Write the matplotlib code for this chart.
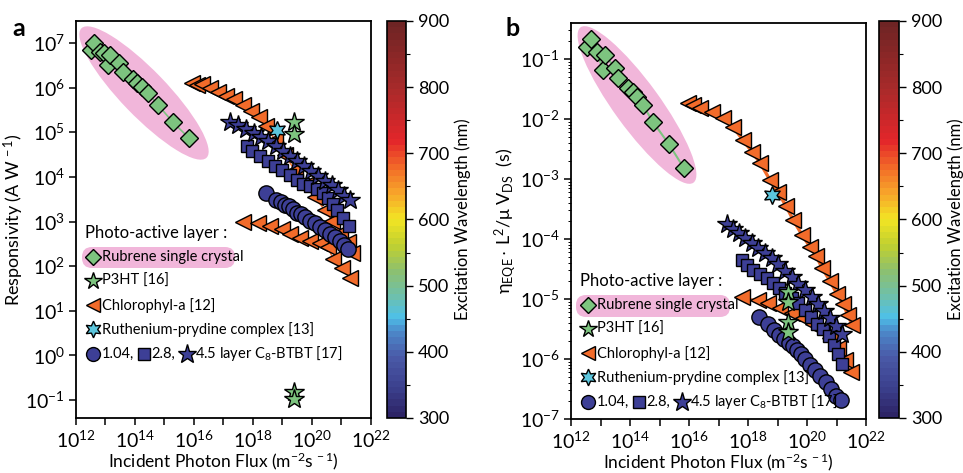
import numpy as np
import matplotlib
matplotlib.use('Agg')
import matplotlib.pyplot as plt
from matplotlib.colors import LinearSegmentedColormap, Normalize
from matplotlib.cm import ScalarMappable
from matplotlib.patches import Ellipse, FancyBboxPatch
from matplotlib.ticker import FixedLocator, FuncFormatter, NullLocator, LogLocator, MultipleLocator

# ---- data (log10 of photon flux / responsivity / eta*L^2/mu V) ----
# panel a
a_rub_x = [12.61, 12.51, 12.81, 12.95, 13.15, 13.08, 13.46, 13.59, 13.93, 14.07, 14.24, 14.44, 14.78, 15.29, 15.83]
a_rub_y = [7.00, 6.84, 6.80, 6.78, 6.73, 6.51, 6.55, 6.35, 6.19, 6.10, 6.01, 5.88, 5.61, 5.22, 4.87]
a_chl1_x = [15.93, 16.10, 16.27, 16.54, 16.81, 17.08, 17.36, 17.66, 17.93, 18.20, 18.44, 18.75, 19.08,
            19.42, 19.76, 20.10, 20.44, 20.68, 20.95, 21.22, 21.36]
a_chl1_y = [6.10, 6.06, 6.08, 5.99, 5.90, 5.81, 5.74, 5.61, 5.47, 5.34, 5.13, 4.82, 4.48,
            4.15, 3.81, 3.54, 3.25, 3.02, 2.75, 2.53, 2.30]
a_chl2_x = [17.66, 18.17, 18.58, 18.98, 19.25, 19.59, 19.93, 20.27, 20.54, 20.71, 21.02, 21.29]
a_chl2_y = [2.98, 2.96, 2.89, 2.84, 2.73, 2.64, 2.57, 2.51, 2.42, 2.17, 1.97, 1.74]
a_circ_x = [18.44, 18.78, 18.95, 19.08, 19.22, 19.36, 19.49, 19.63, 19.76, 19.93, 20.10, 20.27, 20.44,
            20.61, 20.78, 20.95, 21.08, 21.22]
a_circ_y = [3.63, 3.49, 3.43, 3.38, 3.34, 3.27, 3.20, 3.16, 3.09, 3.02, 2.96, 2.87, 2.80,
            2.73, 2.66, 2.57, 2.48, 2.39]
a_sq_x = [17.80, 17.97, 18.24, 18.51, 18.75, 18.98, 19.25, 19.49, 19.69, 19.93, 20.17, 20.37, 20.54,
          20.71, 20.85, 21.05, 21.25]
a_sq_y = [4.69, 4.57, 4.46, 4.35, 4.24, 4.15, 4.04, 3.92, 3.85, 3.79, 3.72, 3.63, 3.52,
          3.40, 3.25, 3.07, 2.89]
a_star_x = [17.22, 17.49, 17.76, 18.03, 18.27, 18.51, 18.78, 19.02, 19.25, 19.49, 19.73, 19.97, 20.20,
            20.44, 20.68, 20.88, 21.08, 21.29]
a_star_y = [5.22, 5.16, 5.07, 4.98, 4.89, 4.80, 4.69, 4.57, 4.46, 4.35, 4.24, 4.12, 4.01,
            3.90, 3.81, 3.70, 3.58, 3.49]
a_ru_x = [18.81]
a_ru_y = [5.04]
a_p3_x = [19.39, 19.39, 19.39, 19.39]
a_p3_y = [5.22, 4.96, -0.82, -0.98]

# panel b
b_rub_x = [12.68, 12.54, 12.88, 13.15, 13.08, 13.49, 13.59, 13.93, 14.10, 14.24, 14.44, 14.78, 15.32, 15.83]
b_rub_y = [-0.67, -0.80, -0.88, -0.93, -1.18, -1.15, -1.32, -1.48, -1.55, -1.63, -1.77, -2.05, -2.42, -2.82]
b_chl1_x = [15.97, 16.14, 16.37, 16.78, 17.15, 17.49, 17.83, 18.14, 18.41, 18.75, 19.02, 19.29, 19.53,
            19.83, 20.10, 20.31, 20.51, 20.78, 21.02, 21.22, 21.39, 21.53]
b_chl1_y = [-1.73, -1.77, -1.82, -1.88, -1.98, -2.13, -2.35, -2.55, -2.73, -3.02, -3.22, -3.45, -3.68,
            -3.93, -4.13, -4.28, -4.48, -4.70, -4.92, -5.08, -5.27, -5.43]
b_chl2_x = [17.80, 18.34, 18.68, 19.08, 19.49, 19.86, 20.20, 20.51, 20.78, 21.05, 21.29, 21.49]
b_chl2_y = [-4.97, -5.02, -5.07, -5.15, -5.23, -5.32, -5.42, -5.52, -5.65, -5.82, -6.02, -6.22]
b_circ_x = [18.37, 18.68, 18.88, 19.05, 19.22, 19.39, 19.53, 19.66, 19.80, 19.93, 20.10, 20.27, 20.44,
            20.64, 20.81, 20.98, 21.15]
b_circ_y = [-5.30, -5.42, -5.52, -5.60, -5.67, -5.73, -5.78, -5.85, -5.92, -6.00, -6.10, -6.18, -6.28,
            -6.38, -6.50, -6.62, -6.68]
b_sq_x = [17.80, 17.97, 18.17, 18.41, 18.64, 18.85, 19.05, 19.25, 19.49, 19.69, 19.93, 20.14, 20.34,
          20.54, 20.75, 20.92, 21.05, 21.19]
b_sq_y = [-4.35, -4.43, -4.52, -4.58, -4.65, -4.73, -4.82, -4.90, -4.98, -5.07, -5.18, -5.30, -5.42,
          -5.50, -5.62, -5.77, -5.92, -6.08]
b_star_x = [17.29, 17.49, 17.69, 17.90, 18.14, 18.34, 18.58, 18.81, 19.02, 19.25, 19.49, 19.69, 19.93,
            20.17, 20.37, 20.58, 20.78, 20.98, 21.19]
b_star_y = [-3.75, -3.83, -3.90, -3.98, -4.07, -4.15, -4.23, -4.32, -4.42, -4.53, -4.63, -4.75, -4.85,
            -4.97, -5.08, -5.20, -5.32, -5.45, -5.58]
b_ru_x = [18.81]
b_ru_y = [-3.27]
b_p3_x = [19.36, 19.36, 19.36, 19.36]
b_p3_y = [-4.88, -5.05, -5.38, -5.55]

# colour bar
wl_stops = [300, 340, 390, 430, 450, 480, 520, 560, 600, 640, 680, 720, 800, 900]
wl_colors = ['#2d2466', '#3b3f8c', '#4a5aa8', '#4c8ccc', '#4ec0e8', '#6cc0b0', '#8cc070', '#c0d030',
             '#f2e424', '#f7a52a', '#f26a28', '#e3262a', '#a82a2a', '#6e2424']
cbar_ticks = [300, 400, 500, 600, 700, 800, 900]

ORANGE = '#f26b2a'
BLUE = '#3d3f96'
GREEN = '#7dc47f'
CYAN = '#5cc6dd'
PINK = '#f1b6da'

plt.rcParams['font.family'] = ['Lato', 'DejaVu Sans']
plt.rcParams['mathtext.fontset'] = 'custom'
plt.rcParams['mathtext.rm'] = 'Lato'
plt.rcParams['mathtext.it'] = 'Lato'
plt.rcParams['mathtext.bf'] = 'Lato:bold'
plt.rcParams['mathtext.default'] = 'regular'

cmap = LinearSegmentedColormap.from_list(
    'wl', [((w - 300) / 600, c) for w, c in zip(wl_stops, wl_colors)], N=64)
norm = Normalize(300, 900)

fig = plt.figure(figsize=(9.63, 4.73), dpi=100)
axa = fig.add_axes([76/963, 55/473, 295/963, 397/473])
caxa = fig.add_axes([387/963, 55/473, 19/963, 397/473])
axb = fig.add_axes([571/963, 54/473, 295/963, 396/473])
caxb = fig.add_axes([879/963, 55/473, 20/963, 397/473])


def P(v):
    return 10.0 ** np.asarray(v)


def pow_label(v, pos):
    e = int(round(np.log10(v)))
    return r'$10^{%d}$' % e


def even_label(v, pos):
    e = int(round(np.log10(v)))
    return r'$10^{%d}$' % e if e % 2 == 0 else ''


def style_axes(ax, ylo, yhi, yexp, minor):
    ax.set_xscale('log')
    ax.set_yscale('log')
    ax.set_xlim(1e12, 1e22)
    ax.set_ylim(10.0 ** ylo, 10.0 ** yhi)
    ax.xaxis.set_major_locator(FixedLocator(P(np.arange(12, 23))))
    ax.xaxis.set_major_formatter(FuncFormatter(even_label))
    ax.xaxis.set_minor_locator(NullLocator())
    ax.yaxis.set_major_locator(FixedLocator(P(yexp)))
    ax.yaxis.set_major_formatter(FuncFormatter(pow_label))
    if minor:
        ax.yaxis.set_minor_locator(LogLocator(base=10, subs=np.arange(2, 10), numticks=20))
        ax.yaxis.set_minor_formatter(FuncFormatter(lambda v, p: ''))
    else:
        ax.yaxis.set_minor_locator(NullLocator())
    ax.tick_params(which='major', direction='out', length=5, width=1.1, labelsize=14, pad=3)
    ax.tick_params(which='minor', direction='out', length=2.5, width=0.7)
    for s in ax.spines.values():
        s.set_linewidth(1.3)
    ax.set_xlabel(r'Incident Photon Flux (m$^{-2}$s$^{\,-1}$)', fontsize=12.5, labelpad=0)


def draw_series(ax, x, y, marker, ms, color, lw=0.0, lcolor=None, z=3):
    if lw > 0:
        ax.plot(P(x), P(y), '-', color=lcolor or color, lw=lw, zorder=z - 0.5)
    ax.plot(P(x), P(y), ls='none', marker=marker, ms=ms, mfc=color, mec='black', mew=1.0, zorder=z)


def sort_xy(x, y):
    idx = np.argsort(x)
    return np.asarray(x)[idx], np.asarray(y)[idx]


def legend(ax, y0, step, pink_box):
    tr = ax.transAxes
    fs = 10.5
    ax.text(0.032, y0 + step, 'Photo-active layer :', transform=tr, fontsize=12, va='center')
    ax.add_patch(FancyBboxPatch(pink_box[:2], pink_box[2], pink_box[3],
                                boxstyle='round,pad=0,rounding_size=0.1', transform=fig.dpi_scale_trans,
                                fc=PINK, ec='none', zorder=1))
    mx, tx = 0.058, 0.088
    rows = [('D', 8, GREEN, 'Rubrene single crystal'),
            ('*', 13, GREEN, 'P3HT [16]'),
            ('<', 10, ORANGE, 'Chlorophyl-a [12]'),
            ((6, 1, 0), 12, CYAN, 'Ruthenium-prydine complex [13]')]
    for i, (m, ms, c, lab) in enumerate(rows):
        yy = y0 - i * step
        ax.plot([mx], [yy], marker=m, ms=ms, mfc=c, mec='black', mew=1.0,
                transform=tr, clip_on=False, zorder=5)
        ax.text(tx, yy, lab, transform=tr, fontsize=fs, va='center', zorder=6)
    yy = y0 - 4 * step
    ax.plot([mx], [yy], marker='o', ms=10, mfc=BLUE, mec='black', mew=1.0, transform=tr, clip_on=False)
    ax.text(tx, yy, '1.04,', transform=tr, fontsize=fs, va='center')
    ax.plot([0.230], [yy], marker='s', ms=8, mfc=BLUE, mec='black', mew=1.0, transform=tr, clip_on=False)
    ax.text(0.257, yy, '2.8,', transform=tr, fontsize=fs, va='center')
    ax.plot([0.375], [yy], marker='*', ms=14, mfc=BLUE, mec='black', mew=1.0, transform=tr, clip_on=False)
    ax.text(0.405, yy, r'4.5 layer C$_8$-BTBT [17]', transform=tr, fontsize=fs, va='center', zorder=6)


def colorbar(cax):
    cb = fig.colorbar(ScalarMappable(norm=norm, cmap=cmap), cax=cax)
    cb.set_ticks(cbar_ticks)
    cb.ax.yaxis.set_minor_locator(MultipleLocator(50))
    cb.ax.tick_params(which='major', direction='out', length=5, width=1, labelsize=13)
    cb.ax.tick_params(which='minor', direction='out', length=3, width=0.8)
    cb.outline.set_linewidth(1.2)
    cb.set_label('Excitation Wavelength (nm)', fontsize=12, labelpad=4)


# ---------------- panel a ----------------
ax = axa
style_axes(ax, -1.4, 7.49, np.arange(-1, 8), False)
ax.set_ylabel(r'Responsivity (A W$^{\,-1}$)', fontsize=13)
ax.yaxis.set_label_coords(-0.17, 0.5)
ax.add_patch(Ellipse((1.44, 3.80), 1.80, 0.46, angle=-46, transform=fig.dpi_scale_trans,
                     fc=PINK, ec='none', zorder=1))
draw_series(ax, *sort_xy(a_rub_x, a_rub_y), 'D', 9, GREEN, lw=1.2, z=4)
draw_series(ax, a_chl1_x, a_chl1_y, '<', 11, ORANGE, lw=1.0, z=3)
draw_series(ax, a_chl2_x, a_chl2_y, '<', 11, ORANGE, lw=1.0, z=3)
draw_series(ax, a_circ_x, a_circ_y, 'o', 11, BLUE, z=3.2)
draw_series(ax, a_sq_x, a_sq_y, 's', 9, BLUE, z=3.3)
draw_series(ax, a_star_x, a_star_y, '*', 15, BLUE, lw=1.0, z=3.4)
draw_series(ax, a_ru_x, a_ru_y, (6, 1, 0), 13, CYAN, z=3.5)
draw_series(ax, a_p3_x, a_p3_y, '*', 15, GREEN, z=3.5)
legend(ax, 0.406, 0.061, (0.82, 2.05, 1.53, 0.21))
colorbar(caxa)

# ---------------- panel b ----------------
ax = axb
style_axes(ax, -7.0, -0.4, np.arange(-7, 0), True)
ax.set_ylabel(r'$\eta_{EQE}\cdot\,L^{2}/\mu\;V_{DS}$  (s)', fontsize=13)
ax.yaxis.set_label_coords(-0.178, 0.5)
ax.add_patch(Ellipse((6.37, 3.68), 1.92, 0.46, angle=-54, transform=fig.dpi_scale_trans,
                     fc=PINK, ec='none', zorder=1))
draw_series(ax, *sort_xy(b_rub_x, b_rub_y), 'D', 9, GREEN, lw=1.5, z=4)
draw_series(ax, b_chl1_x, b_chl1_y, '<', 11, ORANGE, lw=2.4, z=3)
draw_series(ax, b_chl2_x, b_chl2_y, '<', 11, ORANGE, lw=1.0, z=3)
draw_series(ax, b_circ_x, b_circ_y, 'o', 11, BLUE, z=3.2)
draw_series(ax, b_sq_x, b_sq_y, 's', 9, BLUE, z=3.3)
draw_series(ax, b_star_x, b_star_y, '*', 15, BLUE, lw=1.0, z=3.4)
draw_series(ax, b_ru_x, b_ru_y, (6, 1, 0), 13, CYAN, z=3.5)
draw_series(ax, b_p3_x, b_p3_y, '*', 15, GREEN, z=3.5)
legend(ax, 0.288, 0.061, (5.76, 1.56, 1.54, 0.22))
colorbar(caxb)

fig.text(12/963, 1 - 29/473, 'a', fontsize=18, fontweight='bold', va='center')
fig.text(505/963, 1 - 29/473, 'b', fontsize=18, fontweight='bold', va='center')

fig.savefig('out.png', dpi=100)
